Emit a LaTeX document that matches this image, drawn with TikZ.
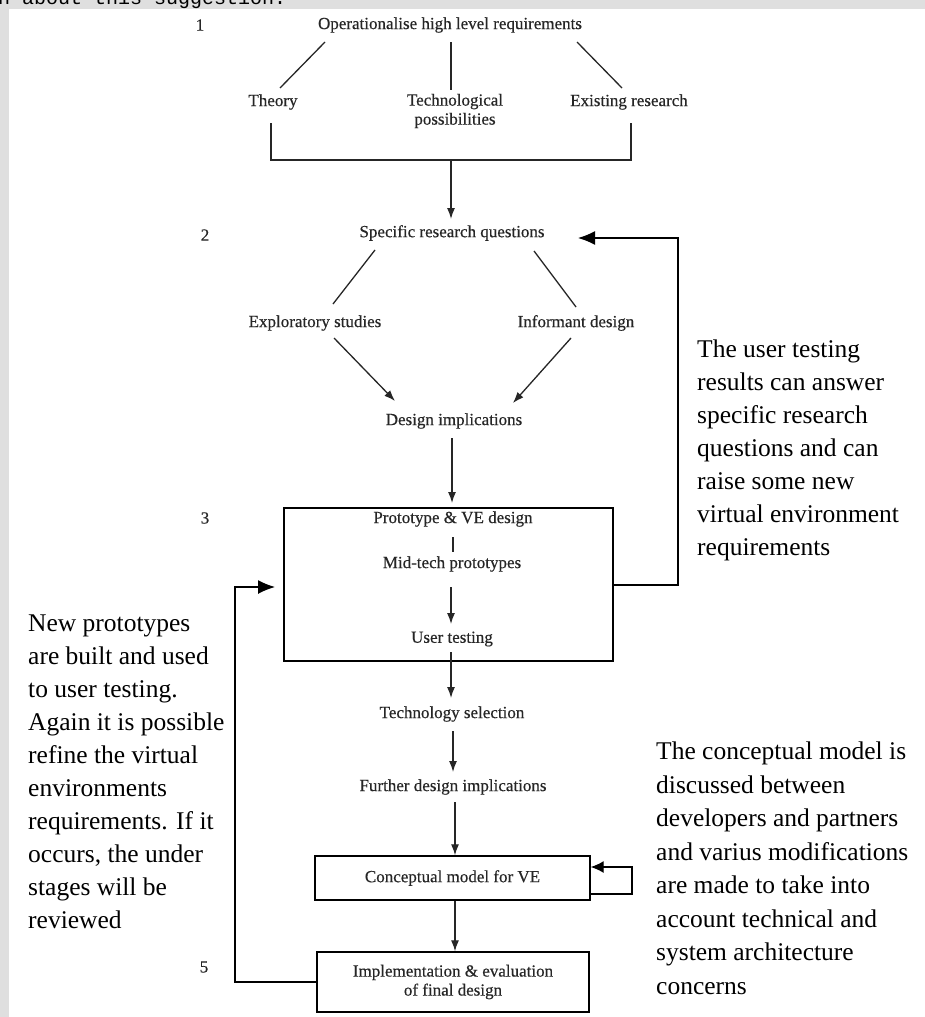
\documentclass[tikz,border=0pt]{standalone}
\usepackage{fontspec}
\setmainfont{Liberation Serif}
\newfontfamily\diagfont[FakeBold=0.4]{Liberation Serif}
\newfontfamily\pagemono{Liberation Mono}
\usetikzlibrary{arrows.meta}
\definecolor{pagegray}{HTML}{DFDFDF}
\definecolor{ink}{HTML}{262626}

\begin{document}
\begin{tikzpicture}[x=1pt,y=-1pt,
  lbl/.style={font=\diagfont\fontsize{17}{19}\selectfont, inner sep=0pt, text=ink, align=center},
  note/.style={font=\fontsize{25.5}{33}\selectfont, align=left, inner sep=0pt, anchor=north west},
  link/.style={line width=1.3pt, draw=ink},
  flow/.style={link, -{Latex[length=11pt,width=8pt]}},
  back/.style={line width=1.3pt, draw=black, -{Latex[length=17pt,width=14pt]}},
  stagebox/.style={draw=black, line width=1.4pt},
]
% page and browser margin
\useasboundingbox (0,0) rectangle (925,1017);
\fill[white] (0,0) rectangle (925,1017);
\fill[pagegray] (0,0) rectangle (925,9);
\fill[pagegray] (0,0) rectangle (9,1017);
\begin{scope}
  \clip (0,0) rectangle (925,9);
  \node[anchor=base west, inner sep=0pt, font=\pagemono\fontsize{20}{20}\selectfont] (strip) at (-2,5) {n about this suggestion.};
\end{scope}

% stage 1
\node[lbl] (s1) at (200,25) {1};
\node[lbl] (op) at (450,25) {Operationalise high level requirements};
\node[lbl] (theory) at (273,102) {Theory};
\node[lbl] (tech) at (455,111) {Technological\\possibilities};
\node[lbl] (exist) at (629,102) {Existing research};
\coordinate (opL) at (325,42);  \coordinate (thT) at (280,88);
\coordinate (opM) at (451,42);  \coordinate (teT) at (451,90);
\coordinate (opR) at (577,42);  \coordinate (exT) at (622,88);
\draw[link] (opL) -- (thT);
\draw[link, line width=1.8pt] (opM) -- (teT);
\draw[link] (opR) -- (exT);
\coordinate (brL) at (271,123); \coordinate (brR) at (631,123);
\coordinate (brM) at (451,160);
\draw[link, line width=1.6pt] (brL) |- (brM) -| (brR);

% stage 2
\node[lbl] (s2) at (205,235) {2};
\node[lbl] (srq) at (452,233) {Specific research questions};
\node[lbl] (expl) at (315,323) {Exploratory studies};
\node[lbl] (inf) at (576,323) {Informant design};
\node[lbl] (dimp) at (454,421) {Design implications};
\coordinate (srqT) at (451,219);
\draw[flow] (brM) -- (srqT);
\coordinate (sqL) at (375,250); \coordinate (exB) at (333,304);
\coordinate (sqR) at (534,251); \coordinate (inB) at (576,307);
\draw[link] (sqL) -- (exB);
\draw[link] (sqR) -- (inB);
\coordinate (exA) at (334,338); \coordinate (diL) at (395,401);
\coordinate (inA) at (571,338); \coordinate (diR) at (513,403);
\draw[flow] (exA) -- (diL);
\draw[flow] (inA) -- (diR);

% stage 3: prototyping box
\node[lbl] (s3) at (205,518) {3};
\draw[stagebox] (284,508) rectangle (613,661);
\node[lbl] (pve) at (453,519) {Prototype \& VE design};
\node[lbl] (mid) at (452,564) {Mid-tech prototypes};
\node[lbl] (ut) at (452,639) {User testing};
\coordinate (diB) at (452,438); \coordinate (boxT) at (452,503);
\draw[flow] (diB) -- (boxT);
\coordinate (pvB) at (453,537); \coordinate (miT) at (453,552);
\draw[link] (pvB) -- (miT);
\coordinate (miB) at (451,587); \coordinate (utT) at (451,624);
\draw[flow] (miB) -- (utT);

% later stages
\node[lbl] (tsel) at (452,714) {Technology selection};
\node[lbl] (fdi) at (453,787) {Further design implications};
\node[stagebox, lbl, minimum width=275pt, minimum height=44pt] (cm) at (452.5,878) {Conceptual model for VE};
\node[lbl] (s5) at (204,967) {5};
\node[stagebox, lbl, minimum width=272pt, minimum height=60pt] (impl) at (453,982) {Implementation \& evaluation\\of final design};
\coordinate (utB) at (451,652); \coordinate (tsT) at (451,698);
\draw[flow] (utB) -- (tsT);
\coordinate (tsB) at (453,731); \coordinate (fdT) at (453,772);
\draw[flow] (tsB) -- (fdT);
\coordinate (fdB) at (455,802);
\draw[flow] (fdB) -- (fdB |- cm.north);
\draw[flow] (cm.south -| 455,0) -- (impl.north -| 455,0);

% feedback loops
\coordinate (cmR) at (cm.east |- 0,894);
\coordinate (cmLoop) at (632,867);
\draw[line width=1.3pt, -{Latex[length=13pt,width=12pt]}] (cmR) -- (632,894) |- (cm.east |- cmLoop);
\coordinate (boxR) at (613,585);
\coordinate (upR) at (678,238);
\coordinate (srqTip) at (578,238);
\draw[back] (boxR) -| (upR) -- (srqTip);
\coordinate (boxL) at (275,587);
\coordinate (downL) at (235,982);
\draw[back] (impl.west) -- (downL) |- (boxL);

% notes
\node[note] (noteL) at (28,615) {New prototypes\\are built and used\\to user testing.\\Again it is possible\\refine the virtual\\environments\\requirements. If it\\occurs, the under\\stages will be\\reviewed};
\node[note] (noteU) at (697,340) {The user testing\\results can answer\\specific research\\questions and can\\raise some new\\virtual environment\\requirements};
\node[note, font=\fontsize{25.5}{33.5}\selectfont] (noteC) at (656,742) {The conceptual model is\\discussed between\\developers and partners\\and varius modifications\\are made to take into\\account technical and\\system architecture\\concerns};
\end{tikzpicture}
\end{document}
